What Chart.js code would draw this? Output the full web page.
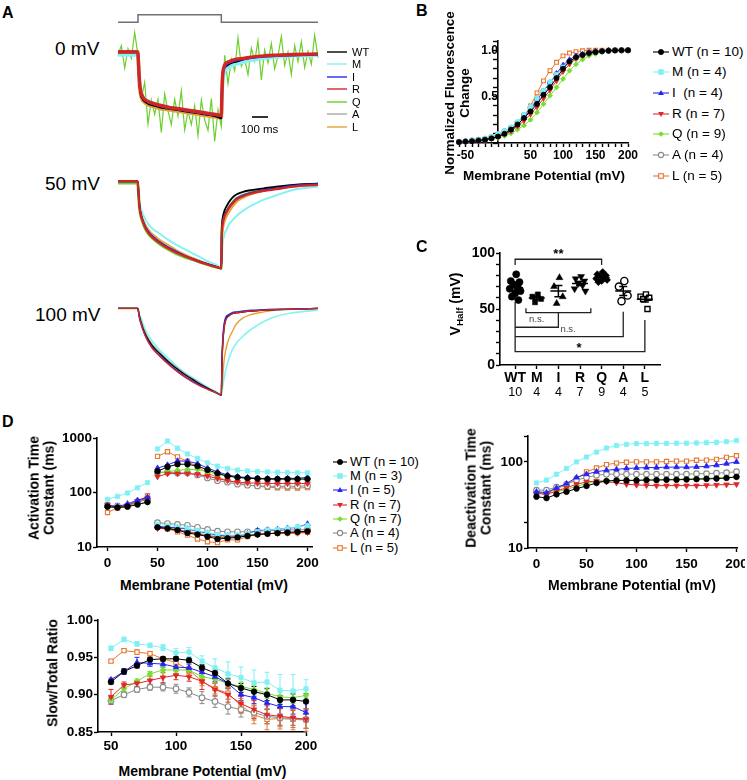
<!DOCTYPE html>
<html>
<head>
<meta charset="utf-8">
<script src="https://cdn.jsdelivr.net/npm/chart.js@4.4.1/dist/chart.umd.min.js"></script>
<style>
html,body{margin:0;padding:0;background:#fff;}
body{width:747px;height:780px;position:relative;overflow:hidden;font-family:"Liberation Sans",Arial,Helvetica,sans-serif;color:#000;}
canvas{position:absolute;}
.tx{position:absolute;white-space:nowrap;line-height:0;}
.rt{position:absolute;white-space:nowrap;text-align:center;line-height:1.1;transform:translate(-50%,-50%) rotate(-90deg);font-weight:bold;}
svg{position:absolute;overflow:visible;}
</style>
</head>
<body>
<script>
// ===================== DATA =====================
const GENOTYPES = ['WT','M','I','R','Q','A','L'];
const N_B = [10,4,4,7,9,4,5];
const N_C = [10,4,4,7,9,4,5];
const N_D = [10,3,5,7,7,4,5];

// Panel A: voltage protocol and normalized fluorescence traces (0 = baseline, 1 = full deflection)
const STEP_T = [0,120,120,620,620,1200];
const STEP_V = [0,0,1,1,0,0];
const TRACE_T = [0,100,118,122,126,130,135,140,150,165,185,210,250,300,350,400,450,500,550,600,620,623,626,630,635,640,650,665,685,710,750,800,875,950,1050,1200];

const T0_WT = [0,0,0,0.15,0.35,0.5,0.62,0.68,0.73,0.77,0.8,0.82,0.85,0.87,0.89,0.91,0.93,0.95,0.97,1.0,1.02,0.75,0.5,0.35,0.28,0.25,0.22,0.2,0.18,0.16,0.13,0.11,0.08,0.07,0.05,0.04];
const T0_M  = [0.05,0.05,0.05,0.15,0.3,0.45,0.55,0.62,0.68,0.73,0.76,0.79,0.82,0.85,0.87,0.89,0.91,0.93,0.95,0.97,0.98,0.8,0.6,0.45,0.36,0.31,0.27,0.24,0.21,0.19,0.16,0.13,0.1,0.08,0.06,0.05];
const T0_I  = [0,0,0,0.15,0.35,0.5,0.6,0.66,0.71,0.75,0.78,0.8,0.83,0.86,0.88,0.9,0.92,0.94,0.96,0.98,0.99,0.72,0.48,0.33,0.27,0.23,0.2,0.17,0.15,0.13,0.11,0.09,0.07,0.06,0.05,0.04];
const T0_R  = [0,0,0,0.12,0.32,0.48,0.58,0.64,0.7,0.74,0.77,0.79,0.82,0.85,0.87,0.89,0.91,0.93,0.95,0.97,0.98,0.7,0.45,0.3,0.24,0.2,0.17,0.15,0.13,0.11,0.1,0.08,0.06,0.05,0.04,0.03];
const T0_A  = [0,0,0,0.15,0.35,0.5,0.6,0.66,0.71,0.75,0.78,0.8,0.83,0.86,0.88,0.9,0.92,0.94,0.96,0.98,0.99,0.72,0.48,0.33,0.27,0.23,0.2,0.17,0.15,0.13,0.11,0.09,0.07,0.06,0.05,0.04];
const T0_L  = [0,0,0,0.15,0.38,0.55,0.65,0.7,0.75,0.79,0.82,0.84,0.87,0.89,0.91,0.93,0.95,0.97,0.99,1.01,1.02,0.74,0.5,0.34,0.27,0.23,0.2,0.17,0.15,0.13,0.11,0.09,0.07,0.06,0.05,0.04];
const Q0_T  = [0,20,40,60,80,100,120,140,160,180,200,220,240,260,280,300,320,340,360,380,400,420,440,460,480,500,520,540,560,580,600,620,640,660,680,700,720,740,760,780,800,820,840,860,880,900,920,940,960,980,1000,1020,1040,1060,1080,1100,1120,1140,1160,1180,1200];
const T0_Q  = [0.05,-0.1,0.25,-0.05,0.1,-0.3,0.05,0.72,0.47,1.11,0.74,0.96,0.73,1.24,0.65,0.91,1.12,0.73,0.99,0.6,1.2,0.91,1.12,0.83,1.29,0.74,1.05,1.21,0.72,1.38,0.89,1.15,0.05,0.49,0.11,0.29,-0.22,0.22,0.11,0.35,-0.06,0.14,-0.17,0.43,-0.03,0.17,-0.13,0.26,0.06,-0.24,0.21,0.0,0.35,-0.1,0.15,-0.16,0.24,-0.01,0.19,-0.26,0.09];

const T50_WT = [0,0,0,0.1,0.22,0.3,0.36,0.4,0.46,0.53,0.59,0.64,0.7,0.76,0.81,0.855,0.895,0.93,0.96,0.99,1.0,0.55,0.45,0.4,0.36,0.33,0.29,0.24,0.19,0.15,0.12,0.1,0.08,0.06,0.04,0.025];
const T50_M  = [0,0,0,0.08,0.18,0.25,0.3,0.33,0.38,0.44,0.5,0.55,0.6,0.67,0.73,0.78,0.83,0.88,0.93,0.97,1.0,0.8,0.72,0.68,0.64,0.6,0.56,0.5,0.45,0.4,0.34,0.28,0.21,0.16,0.1,0.06];
const T50_I  = [0,0,0,0.1,0.22,0.3,0.36,0.4,0.46,0.53,0.59,0.64,0.7,0.76,0.81,0.855,0.895,0.93,0.96,0.99,1.0,0.6,0.5,0.45,0.41,0.385,0.35,0.3,0.25,0.2,0.16,0.13,0.1,0.08,0.05,0.03];
const T50_R  = [0,0,0,0.1,0.22,0.31,0.37,0.41,0.47,0.54,0.6,0.65,0.71,0.77,0.82,0.86,0.9,0.935,0.965,0.99,1.0,0.62,0.52,0.47,0.43,0.4,0.36,0.31,0.26,0.21,0.17,0.14,0.11,0.09,0.06,0.04];
const T50_Q  = [0.02,0.02,0.02,0.1,0.23,0.32,0.38,0.42,0.48,0.55,0.61,0.66,0.72,0.78,0.83,0.87,0.9,0.935,0.965,0.99,1.0,0.6,0.5,0.45,0.41,0.385,0.35,0.3,0.25,0.2,0.16,0.13,0.1,0.08,0.05,0.03];
const T50_A  = [0,0,0,0.1,0.21,0.29,0.35,0.39,0.45,0.52,0.58,0.63,0.69,0.75,0.8,0.85,0.89,0.925,0.96,0.99,1.0,0.6,0.5,0.45,0.41,0.385,0.35,0.3,0.25,0.2,0.16,0.13,0.1,0.08,0.05,0.03];
const T50_L  = [0,0,0,0.1,0.2,0.28,0.34,0.38,0.44,0.5,0.56,0.61,0.67,0.73,0.79,0.84,0.88,0.92,0.955,0.985,1.0,0.7,0.6,0.55,0.5,0.46,0.41,0.36,0.3,0.24,0.19,0.15,0.11,0.08,0.05,0.03];

const T100_WT = [0,0,0,0.02,0.07,0.1,0.14,0.17,0.23,0.3,0.37,0.44,0.52,0.61,0.69,0.76,0.82,0.88,0.93,0.98,1.0,0.7,0.5,0.35,0.24,0.17,0.11,0.08,0.06,0.05,0.04,0.03,0.02,0.015,0.01,0];
const T100_M  = [0,0,0,0.02,0.05,0.08,0.1,0.12,0.18,0.25,0.32,0.39,0.48,0.57,0.66,0.74,0.8,0.86,0.92,0.97,1.0,0.97,0.93,0.88,0.82,0.77,0.68,0.58,0.48,0.4,0.32,0.24,0.15,0.09,0.05,0.02];
const T100_I  = [0,0,0,0.03,0.08,0.12,0.16,0.19,0.25,0.32,0.39,0.46,0.54,0.63,0.71,0.78,0.84,0.89,0.94,0.98,1.0,0.65,0.45,0.3,0.2,0.14,0.09,0.07,0.05,0.04,0.03,0.02,0.015,0.01,0.01,0];
const T100_R  = [0,0,0,0.03,0.08,0.12,0.16,0.19,0.25,0.32,0.4,0.47,0.55,0.64,0.72,0.79,0.85,0.9,0.94,0.98,1.0,0.72,0.52,0.37,0.26,0.19,0.12,0.09,0.06,0.05,0.04,0.03,0.02,0.015,0.01,0];
const T100_Q  = [0,0,0,0.02,0.06,0.09,0.13,0.16,0.22,0.29,0.36,0.43,0.51,0.6,0.68,0.75,0.82,0.88,0.93,0.98,1.0,0.72,0.52,0.37,0.26,0.18,0.12,0.08,0.06,0.05,0.04,0.03,0.02,0.015,0.01,0];
const T100_A  = [0,0,0,0.02,0.06,0.09,0.13,0.16,0.22,0.29,0.36,0.43,0.51,0.6,0.68,0.75,0.81,0.87,0.93,0.98,1.0,0.7,0.5,0.35,0.24,0.17,0.11,0.08,0.06,0.05,0.04,0.03,0.02,0.015,0.01,0];
const T100_L  = [0,0,0,0.02,0.07,0.1,0.14,0.17,0.23,0.3,0.37,0.44,0.52,0.61,0.69,0.76,0.82,0.88,0.93,0.98,1.0,0.92,0.85,0.75,0.63,0.55,0.45,0.35,0.27,0.18,0.11,0.07,0.04,0.02,0.01,0];

// Panel B: normalized F-V, -60..200 mV
const V_B = [-60,-50,-40,-30,-20,-10,0,10,20,30,40,50,60,70,80,90,100,110,120,130,140,150,160,170,180,190,200];
const B_WT = [0.01,0.015,0.02,0.027,0.036,0.05,0.07,0.1,0.145,0.2,0.27,0.34,0.42,0.52,0.6,0.7,0.8,0.88,0.925,0.95,0.97,0.98,0.99,0.995,0.998,1.0,1.0];
const B_M  = [0.015,0.02,0.028,0.037,0.05,0.07,0.1,0.13,0.17,0.23,0.31,0.39,0.48,0.57,0.66,0.74,0.82,0.88,0.92,0.95,0.97,0.98,0.99,0.995,1.0,1.0,1.0];
const B_I  = [0.01,0.015,0.02,0.027,0.035,0.05,0.07,0.1,0.14,0.2,0.27,0.36,0.46,0.56,0.65,0.75,0.84,0.9,0.94,0.96,0.98,0.99,0.99,1.0,1.0,1.0,1.0];
const B_R  = [0.01,0.015,0.02,0.027,0.035,0.05,0.07,0.095,0.13,0.18,0.24,0.31,0.39,0.48,0.57,0.67,0.77,0.85,0.91,0.94,0.96,0.98,0.99,0.995,1.0,1.0,1.0];
const B_Q  = [0.008,0.012,0.017,0.022,0.03,0.04,0.055,0.075,0.105,0.145,0.19,0.25,0.33,0.42,0.51,0.6,0.69,0.78,0.85,0.9,0.94,0.96,0.98,0.99,0.995,1.0,1.0];
const B_A  = [0.012,0.018,0.025,0.033,0.045,0.065,0.09,0.125,0.165,0.22,0.3,0.38,0.47,0.56,0.65,0.74,0.82,0.88,0.92,0.95,0.97,0.98,0.99,0.995,1.0,1.0,1.0];
const B_L  = [0.01,0.015,0.02,0.027,0.035,0.05,0.07,0.095,0.13,0.19,0.28,0.4,0.54,0.67,0.78,0.87,0.94,0.97,0.985,0.995,1.0,1.0,1.0,1.0,1.0,1.0,1.0];

// Panel C: V-half per cell (mV)
const VH_WT = [81,75,74,72,70,68,66,64,61,58];
const VH_M  = [63,61,59,56];
const VH_I  = [78,70,61,55];
const VH_R  = [79,77,75,73,71,68,66];
const VH_Q  = [83,81,80,79,78,77,76,75,74];
const VH_A  = [75,70,62,57];
const VH_L  = [63,61,60,59,50];

// Panel D: activation time constants (ms)
const V_ACT1 = [0,10,20,30,40];
const V_ACT2 = [50,60,70,80,90,100,110,120,130,140,150,160,170,180,190,200];
const ACT1_WT = [55,53,55,60,67];
const ACT1_M  = [75,85,98,122,152];
const ACT1_I  = [57,55,62,72,82];
const ACT1_R  = [60,53,58,70,78];
const ACT1_Q  = [55,52,56,62,65];
const ACT1_A  = [58,57,57,66,75];
const ACT1_L  = [43,52,56,68,87];
const SLOW_WT = [245,295,330,330,305,260,225,200,190,183,180,177,177,177,177,177];
const SLOW_M  = [630,880,650,510,420,350,305,275,258,248,242,238,235,232,230,230];
const SLOW_I  = [280,320,380,375,340,280,240,210,195,188,183,180,180,182,182,190];
const SLOW_R  = [195,222,222,222,215,200,180,165,155,150,148,147,146,146,146,146];
const SLOW_Q  = [230,240,255,265,265,240,215,200,188,182,178,175,173,172,172,172];
const SLOW_A  = [232,236,228,230,210,185,165,155,142,136,132,130,130,130,130,132];
const SLOW_L  = [460,560,450,370,300,225,190,165,150,138,130,125,122,121,121,123];
const FAST_WT = [23,22,20.5,18,17,15.5,14,14.5,15,16,17,17.5,18,18.5,19,19.5];
const FAST_M  = [26,25,23.5,22,20,18.5,17,16.5,16.5,17.5,19,20.5,21,22,23.5,25];
const FAST_I  = [24,23,22.5,21.5,19.5,18,16.5,16,16,17.5,20,20.5,21,22,23,26.5];
const FAST_R  = [22,21.5,20.5,19,17.5,16,15,15,15.5,16,17,17.5,18,18,18,18.5];
const FAST_Q  = [22.5,22,21,19.5,18,16.5,15.5,15.5,16,16.5,17,17.5,18,18.5,18.5,19];
const FAST_A  = [28,27,26,25,23,21,19.5,19,19,19,19.5,20,20,20.5,20.5,21];
const FAST_L  = [23,21.5,19,16.5,14,12.5,12,13.5,13.5,15.5,17,17.5,18,18,18.3,18.6];

// Panel D: deactivation time constants (ms)
const V_DEACT = [0,10,20,30,40,50,60,70,80,90,100,110,120,130,140,150,160,170,180,190,200];
const DEACT_WT = [39.5,38,42,45,49,52.5,57,60,61,61,61,61.5,61.5,62,62,62.5,63,63.5,64,65,67];
const DEACT_M  = [57,61.5,72,84,100,114,130,145,155,160,163,163,164,164,165,165,166,167,169,172,177];
const DEACT_I  = [45,44,50,56,66,72,77,80,82,84,85,86,86,87,87,87,87.5,89,91.5,95.5,100];
const DEACT_R  = [43,42,46,50,55,58.5,60,58.7,57.3,55,54,53.5,53,53,53,53,53,53.5,54,54.5,55];
const DEACT_Q  = [44,43,45,48,52,56,60,61,61,61,61.5,62,62,62.5,63,63.5,64,64.5,65,66,67];
const DEACT_A  = [47,47,51,55,61.5,66,70,72,72,72,72,72,72,72,72,72,73,73,74,75,77];
const DEACT_L  = [44,43,49,54,64,76.5,85,93,97,99,100,100,100,101,102,102,104.5,105,107,113,118];

// Panel D: slow/total ratio with SEM
const V_RATIO = [50,60,70,80,90,100,110,120,130,140,150,160,170,180,190,200];
const RATIO_WT = [0.917,0.931,0.939,0.947,0.948,0.948,0.946,0.936,0.929,0.915,0.909,0.904,0.9,0.893,0.893,0.891];
const RATIO_M  = [0.962,0.974,0.968,0.966,0.963,0.956,0.957,0.945,0.936,0.928,0.923,0.916,0.917,0.906,0.905,0.908];
const RATIO_I  = [0.92,0.931,0.943,0.942,0.941,0.937,0.936,0.93,0.924,0.915,0.9,0.896,0.889,0.884,0.884,0.876];
const RATIO_R  = [0.897,0.913,0.915,0.919,0.923,0.926,0.924,0.918,0.907,0.9,0.888,0.88,0.873,0.871,0.869,0.867];
const RATIO_Q  = [0.893,0.908,0.918,0.928,0.933,0.933,0.933,0.924,0.921,0.915,0.911,0.907,0.902,0.897,0.896,0.899];
const RATIO_A  = [0.892,0.9,0.907,0.91,0.91,0.908,0.903,0.896,0.891,0.884,0.88,0.876,0.871,0.869,0.868,0.867];
const RATIO_L  = [0.945,0.959,0.957,0.955,0.948,0.943,0.933,0.918,0.908,0.902,0.885,0.873,0.867,0.868,0.867,0.866];
const SEM_WT = [0.003,0.003,0.003,0.003,0.003,0.003,0.003,0.004,0.004,0.006,0.006,0.007,0.008,0.006,0.008,0.01];
const SEM_M  = [0.003,0.003,0.003,0.003,0.004,0.006,0.006,0.007,0.012,0.016,0.014,0.017,0.013,0.021,0.022,0.012];
const SEM_I  = [0.002,0.004,0.007,0.004,0.004,0.005,0.005,0.006,0.006,0.007,0.008,0.008,0.009,0.01,0.01,0.012];
const SEM_R  = [0.01,0.004,0.004,0.006,0.007,0.006,0.006,0.011,0.009,0.01,0.012,0.012,0.012,0.012,0.01,0.012];
const SEM_Q  = [0.005,0.004,0.003,0.003,0.004,0.004,0.004,0.005,0.005,0.006,0.006,0.006,0.007,0.008,0.008,0.008];
const SEM_A  = [0.004,0.004,0.004,0.004,0.005,0.006,0.006,0.008,0.008,0.01,0.01,0.01,0.01,0.012,0.012,0.012];
const SEM_L  = [0.002,0.002,0.003,0.003,0.003,0.004,0.005,0.006,0.007,0.008,0.01,0.012,0.014,0.014,0.014,0.015];

// ===================== STYLE =====================
const FONT = '"Liberation Sans", Arial, Helvetica, sans-serif';
Chart.defaults.font.family = FONT;
Chart.defaults.color = '#000';

const STY = {
  WT:{c:'#000000', ps:'circle', rot:0, fill:true, r:2.8},
  M:{c:'#7ff0f4', ps:'rect', rot:0, fill:true, r:3.0},
  I:{c:'#2525f2', ps:'triangle', rot:0, fill:true, r:3.2},
  R:{c:'#e02828', ps:'triangle', rot:180, fill:true, r:3.2},
  Q:{c:'#74e02e', ps:'rectRot', rot:0, fill:true, r:2.8},
  A:{c:'#8a8a8a', ps:'circle', rot:0, fill:false, r:2.8},
  L:{c:'#e8772e', ps:'rect', rot:0, fill:false, r:3.0}
};
const TRACE_COL = {WT:'#000000', M:'#86f2f2', I:'#2a2ae6', R:'#d42424', Q:'#6cd02c', A:'#a8a8a8', L:'#e6a238'};

// ===================== HELPERS =====================
function addText(html, x, y, size, weight, align, color) {
  const d = document.createElement('div');
  d.className = 'tx';
  d.innerHTML = html;
  d.style.left = x + 'px'; d.style.top = y + 'px';
  d.style.fontSize = size + 'px';
  d.style.fontWeight = weight || 'normal';
  if (color) d.style.color = color;
  const t = align === 'c' ? '-50%' : (align === 'r' ? '-100%' : '0');
  d.style.transform = 'translateX(' + t + ')';
  document.body.appendChild(d);
}
function addRot(html, x, y, size) {
  const d = document.createElement('div');
  d.className = 'rt';
  d.innerHTML = html;
  d.style.left = x + 'px'; d.style.top = y + 'px';
  d.style.fontSize = size + 'px';
  document.body.appendChild(d);
}
function markerSVG(g, cx, cy) {
  const s = STY[g];
  const fill = s.fill ? s.c : '#fff';
  const sw = s.fill ? 0.8 : 1.1;
  if (s.ps === 'circle') return `<circle cx="${cx}" cy="${cy}" r="2.6" fill="${fill}" stroke="${s.c}" stroke-width="${sw}"/>`;
  if (s.ps === 'rect') return `<rect x="${cx-2.3}" y="${cy-2.3}" width="4.6" height="4.6" fill="${fill}" stroke="${s.c}" stroke-width="${sw}"/>`;
  if (s.ps === 'rectRot') return `<polygon points="${cx},${cy-2.8} ${cx+2.8},${cy} ${cx},${cy+2.8} ${cx-2.8},${cy}" fill="${fill}"/>`;
  if (s.rot === 180) return `<polygon points="${cx-2.9},${cy-2} ${cx+2.9},${cy-2} ${cx},${cy+3}" fill="${fill}"/>`;
  return `<polygon points="${cx-2.9},${cy+2} ${cx+2.9},${cy+2} ${cx},${cy-3}" fill="${fill}"/>`;
}
function addLegend(x0, lineW, textX, y0, dy, labels, size, withMarker, colors) {
  GENOTYPES.forEach((g, i) => {
    const y = y0 + i * dy;
    const c = colors ? colors[g] : STY[g].c;
    let inner = `<line x1="0" y1="6" x2="${lineW}" y2="6" stroke="${c}" stroke-width="${withMarker ? 1.1 : 1.4}"/>`;
    if (withMarker) inner += markerSVG(g, lineW / 2, 6);
    const sv = document.createElementNS('http://www.w3.org/2000/svg', 'svg');
    sv.setAttribute('width', lineW); sv.setAttribute('height', 12);
    sv.style.left = x0 + 'px'; sv.style.top = (y - 6) + 'px';
    sv.innerHTML = inner;
    document.body.appendChild(sv);
    addText(labels[i], textX, y, size, 'normal', 'l');
  });
}

function makeChart(area, pad, config) {
  const cv = document.createElement('canvas');
  const W = area.w + pad.l + pad.r, H = area.h + pad.t + pad.b;
  cv.width = W; cv.height = H;
  cv.style.left = (area.l - pad.l) + 'px'; cv.style.top = (area.t - pad.t) + 'px';
  cv.style.width = W + 'px'; cv.style.height = H + 'px';
  document.body.appendChild(cv);
  const o = config.options;
  o.responsive = false; o.animation = false; o.devicePixelRatio = 1; o.events = [];
  o.plugins = Object.assign({legend:{display:false}, tooltip:{enabled:false}}, o.plugins || {});
  const sx = o.scales.x, sy = o.scales.y;
  const xBox = sx.display !== false && typeof sx.position !== 'object';
  const yBox = sy.display !== false && typeof sy.position !== 'object';
  o.layout = {padding:{left: yBox ? 0 : pad.l, right: pad.r, top: pad.t, bottom: xBox ? 0 : pad.b}};
  sx.afterFit = s => { if (xBox) s.height = pad.b; s.paddingLeft = 0; s.paddingRight = 0; s.paddingTop = 0; s.paddingBottom = 0; };
  sy.afterFit = s => { if (yBox) s.width = pad.l; s.paddingTop = 0; s.paddingBottom = 0; s.paddingLeft = 0; s.paddingRight = 0; };
  return new Chart(cv, config);
}

function axis(opts) {
  const ticksArr = opts.ticks;
  const lab = opts.labels;
  const fmt = opts.fmt || (v => String(v));
  const sc = {
    type: opts.type || 'linear', min: opts.min, max: opts.max,
    border:{display:true, color:'#000', width:1.6},
    grid:{display:true, drawOnChartArea:false, drawTicks:true, tickLength: opts.tl || 4, tickColor:'#000', tickWidth:1.4},
    afterBuildTicks: s => { s.ticks = ticksArr.map(v => ({value:v})); },
    ticks:{autoSkip:false, maxRotation:0, minRotation:0, padding: opts.pad === undefined ? 2 : opts.pad,
      font:{family:FONT, size: opts.size || 13, weight:'bold'}, color:'#000',
      callback: v => { const hit = lab.find(l => Math.abs(l - v) < 1e-6); return hit === undefined ? '' : fmt(hit); }}
  };
  if (opts.position) sc.position = opts.position;
  return sc;
}

const errPlugin = {
  id:'errbars',
  beforeDatasetsDraw(chart) {
    const ctx = chart.ctx, ys = chart.scales.y;
    chart.data.datasets.forEach((ds, i) => {
      if (!ds.sem) return;
      const meta = chart.getDatasetMeta(i);
      ctx.save();
      ctx.strokeStyle = ds.semColor; ctx.lineWidth = 1;
      meta.data.forEach((pt, j) => {
        const v = ds.data[j].y, e = ds.sem[j];
        const y1 = ys.getPixelForValue(v + e), y2 = ys.getPixelForValue(v - e);
        ctx.beginPath();
        ctx.moveTo(pt.x, y1); ctx.lineTo(pt.x, y2);
        ctx.moveTo(pt.x - 2.5, y1); ctx.lineTo(pt.x + 2.5, y1);
        ctx.moveTo(pt.x - 2.5, y2); ctx.lineTo(pt.x + 2.5, y2);
        ctx.stroke();
      });
      ctx.restore();
    });
  }
};

function pts(xs, ys) { return xs.map((x, i) => ({x:x, y:ys[i]})); }
function seriesDS(g, data, extra) {
  const s = STY[g];
  return Object.assign({
    data: data, borderColor: s.c, borderWidth: 1, backgroundColor: s.c,
    pointStyle: s.ps, pointRotation: s.rot, pointRadius: s.r,
    pointBackgroundColor: s.fill ? s.c : '#ffffff', pointBorderColor: s.c, pointBorderWidth: s.fill ? 0.8 : 1.1,
    tension: 0, clip: false, spanGaps: false
  }, extra || {});
}

// ===================== PANEL A =====================
addText('A', 2, 12.5, 16, 'bold', 'l');
makeChart({l:118, t:11, w:200, h:15}, {l:4, r:4, t:4, b:4}, {
  type:'line',
  data:{datasets:[{data:pts(STEP_T, STEP_V), borderColor:'#707070', borderWidth:1.5, pointRadius:0, tension:0, clip:false}]},
  options:{scales:{x:{type:'linear', min:0, max:1200, display:false}, y:{min:-0.5, max:1.5, display:false}}}
});

function traceChart(area, yMin, yMax, sets) {
  makeChart(area, {l:6, r:6, t:6, b:6}, {
    type:'line',
    data:{datasets: sets.map(s => ({
      data: pts(s.t || TRACE_T, s.v), borderColor: TRACE_COL[s.g], borderWidth: s.w,
      pointRadius:0, tension:0, cubicInterpolationMode: s.t ? 'default' : 'monotone', clip:false
    }))},
    options:{scales:{x:{type:'linear', min:0, max:1200, display:false}, y:{min:yMin, max:yMax, reverse:true, display:false}}}
  });
}
traceChart({l:118, t:26, w:200, h:120}, -0.4, 1.45, [
  {g:'R', v:T0_R, w:3.4}, {g:'I', v:T0_I, w:2.4}, {g:'M', v:T0_M, w:3.2}, {g:'WT', v:T0_WT, w:2.4},
  {g:'A', v:T0_A, w:2.2}, {g:'L', v:T0_L, w:3.6}, {g:'Q', v:T0_Q, t:Q0_T, w:1.2}
]);
traceChart({l:118, t:164, w:200, h:113}, -0.2, 1.1, [
  {g:'R', v:T50_R, w:2.2}, {g:'I', v:T50_I, w:1.8}, {g:'WT', v:T50_WT, w:1.8}, {g:'A', v:T50_A, w:1.6},
  {g:'L', v:T50_L, w:1.8}, {g:'M', v:T50_M, w:2}, {g:'Q', v:T50_Q, w:3}
]);
traceChart({l:118, t:291, w:200, h:113}, -0.2, 1.1, [
  {g:'R', v:T100_R, w:1.3}, {g:'I', v:T100_I, w:1.3}, {g:'WT', v:T100_WT, w:1.3}, {g:'A', v:T100_A, w:1.3},
  {g:'Q', v:T100_Q, w:1.5}, {g:'L', v:T100_L, w:1.4}, {g:'M', v:T100_M, w:1.6}
]);
addText('0 mV', 55, 48.5, 19, 'normal', 'l');
addText('50 mV', 45, 183.5, 19, 'normal', 'l');
addText('100 mV', 35, 315, 19, 'normal', 'l');
addLegend(327, 20, 352, 51.5, 12.5, GENOTYPES, 11, false, TRACE_COL);
(function(){
  const sv = document.createElementNS('http://www.w3.org/2000/svg', 'svg');
  sv.setAttribute('width', 20); sv.setAttribute('height', 6);
  sv.style.left = '251px'; sv.style.top = '114px';
  sv.innerHTML = '<line x1="1" y1="3" x2="17" y2="3" stroke="#000" stroke-width="1.6"/>';
  document.body.appendChild(sv);
})();
addText('100 ms', 259.5, 128.5, 11.5, 'normal', 'c');

// ===================== PANEL B =====================
addText('B', 416, 11, 16, 'bold', 'l');
const B_XT = []; for (let v = -60; v <= 200; v += 10) B_XT.push(v);
const B_YT = []; for (let k = 0; k <= 11; k++) B_YT.push(k / 10);
const BDATA = {WT:B_WT, M:B_M, I:B_I, R:B_R, Q:B_Q, A:B_A, L:B_L};
makeChart({l:459, t:41, w:169, h:102}, {l:12, r:14, t:6, b:24}, {
  type:'line',
  data:{datasets: GENOTYPES.map(g => seriesDS(g, pts(V_B, BDATA[g]), {pointRadius: STY[g].r * 0.9}))},
  options:{scales:{
    x: axis({min:-60, max:200, ticks:B_XT, labels:[-50,50,100,150,200], size:12, pad:1.5}),
    y: axis({min:0, max:1.1, ticks:B_YT, labels:[0.5,1.0], fmt:v => v.toFixed(1), size:12, pad:2, position:{x:0}})
  }}
});
addRot('Normalized Fluorescence<br>Change', 457.5, 93, 13.5);
addText('Membrane Potential (mV)', 544, 176, 13.5, 'bold', 'c');
addLegend(653, 16, 672, 51.5, 20.7, ['WT (n = 10)','M (n = 4)','I&nbsp; (n = 4)','R (n = 7)','Q (n = 9)','A (n = 4)','L (n = 5)'], 13.5, true);

// ===================== PANEL C =====================
addText('C', 416, 246.5, 16, 'bold', 'l');
const VH = {WT:VH_WT, M:VH_M, I:VH_I, R:VH_R, Q:VH_Q, A:VH_A, L:VH_L};
const JIT = [0.05,-0.2,0.2,-0.08,0.12,-0.25,0.25,0.0,-0.15,0.15];
const C_TY = []; for (let v = 0; v <= 100; v += 10) C_TY.push(v);
const BRACKETS = [
  [[0,89.3],[0,94.4],[4,94.4],[4,89.3]],
  [[0.5,50.6],[0.5,46.7],[3.5,46.7],[3.5,50.6]],
  [[2,46.7],[2,33.7],[0,33.7]],
  [[0,56.5],[0,11.9],[6,11.9],[6,40.2]],
  [[0,25.3],[5,25.3],[5,47.6]]
];
const SIG_TEXT = [
  {t:'**', x:2, y:101.5, size:13, bold:true, dy:3, color:'#000'},
  {t:'n.s.', x:1.0, y:40.8, size:9.5, bold:false, dy:0, color:'#444'},
  {t:'n.s.', x:2.45, y:32.1, size:9.5, bold:false, dy:0, color:'#444'},
  {t:'*', x:2.95, y:17.9, size:13, bold:true, dy:3, color:'#000'}
];
const cPlugin = {
  id:'cplug',
  afterDatasetsDraw(chart) {
    const ctx = chart.ctx, xs = chart.scales.x, ys = chart.scales.y;
    ctx.save();
    ctx.strokeStyle = '#000'; ctx.lineWidth = 1.5;
    GENOTYPES.forEach((g, i) => {
      const v = VH[g], n = v.length;
      const m = v.reduce((a, b) => a + b, 0) / n;
      const sd = Math.sqrt(v.reduce((a, b) => a + (b - m) * (b - m), 0) / (n - 1));
      const se = sd / Math.sqrt(n);
      const px = xs.getPixelForValue(i);
      const pm = ys.getPixelForValue(m), p1 = ys.getPixelForValue(m + se), p2 = ys.getPixelForValue(m - se);
      ctx.beginPath();
      ctx.moveTo(px - 8, pm); ctx.lineTo(px + 8, pm);
      ctx.moveTo(px, p1); ctx.lineTo(px, p2);
      ctx.moveTo(px - 4, p1); ctx.lineTo(px + 4, p1);
      ctx.moveTo(px - 4, p2); ctx.lineTo(px + 4, p2);
      ctx.stroke();
    });
    ctx.strokeStyle = '#222'; ctx.lineWidth = 1.3;
    BRACKETS.forEach(b => {
      ctx.beginPath();
      b.forEach((p, k) => {
        const X = xs.getPixelForValue(p[0]), Y = ys.getPixelForValue(p[1]);
        if (k === 0) ctx.moveTo(X, Y); else ctx.lineTo(X, Y);
      });
      ctx.stroke();
    });
    ctx.textAlign = 'center'; ctx.textBaseline = 'middle';
    SIG_TEXT.forEach(s => {
      ctx.font = (s.bold ? 'bold ' : '') + s.size + 'px ' + FONT;
      ctx.fillStyle = s.color;
      ctx.fillText(s.t, xs.getPixelForValue(s.x), ys.getPixelForValue(s.y) + s.dy);
    });
    ctx.font = '12.5px ' + FONT; ctx.fillStyle = '#000';
    N_C.forEach((n, i) => ctx.fillText(String(n), xs.getPixelForValue(i), chart.chartArea.bottom + 28));
    ctx.restore();
  }
};
makeChart({l:500, t:253, w:160, h:112}, {l:34, r:8, t:14, b:42}, {
  type:'scatter',
  data:{datasets: GENOTYPES.map((g, i) => {
    const s = STY[g];
    return {
      data: VH[g].map((v, j) => ({x: i + JIT[j], y: v})),
      pointStyle: s.ps, pointRotation: s.rot, pointRadius: s.ps === 'triangle' ? 4 : 3.6,
      pointBackgroundColor: s.fill ? '#000' : '#fff', pointBorderColor:'#000', pointBorderWidth: s.fill ? 0.5 : 1.4,
      showLine:false, clip:false
    };
  })},
  options:{scales:{
    x: axis({min:-0.7, max:6.7, ticks:[0,1,2,3,4,5,6], labels:[0,1,2,3,4,5,6], fmt:v => GENOTYPES[Math.round(v)], size:14, pad:1}),
    y: axis({min:0, max:100, ticks:C_TY, labels:[0,50,100], size:14, pad:1})
  }},
  plugins:[cPlugin]
});
addRot('V<sub style="font-size:70%;vertical-align:-0.25em">Half</sub> (mV)', 457, 304, 14);

// ===================== PANEL D =====================
addText('D', 2, 421.5, 16, 'bold', 'l');
const ACT1 = {WT:ACT1_WT, M:ACT1_M, I:ACT1_I, R:ACT1_R, Q:ACT1_Q, A:ACT1_A, L:ACT1_L};
const SLOW = {WT:SLOW_WT, M:SLOW_M, I:SLOW_I, R:SLOW_R, Q:SLOW_Q, A:SLOW_A, L:SLOW_L};
const FAST = {WT:FAST_WT, M:FAST_M, I:FAST_I, R:FAST_R, Q:FAST_Q, A:FAST_A, L:FAST_L};
const actSets = [];
GENOTYPES.forEach(g => {
  actSets.push(seriesDS(g, pts(V_ACT1, ACT1[g]).concat([{x:45, y:null}], pts(V_ACT2, SLOW[g]))));
  actSets.push(seriesDS(g, pts(V_ACT2, FAST[g])));
});
makeChart({l:97, t:438, w:215, h:109}, {l:45, r:10, t:8, b:30}, {
  type:'line',
  data:{datasets: actSets},
  options:{scales:{
    x: axis({min:-10.5, max:204.5, ticks:[0,50,100,150,200], labels:[0,50,100,150,200], size:13.5, pad:4}),
    y: axis({type:'logarithmic', min:10, max:1000, ticks:[10,100,1000], labels:[10,100,1000], size:13.5, pad:1})
  }}
});
addRot('Activation Time<br>Constant (ms)', 41.5, 488, 14);
addText('Membrane Potential (mV)', 204, 585, 14, 'bold', 'c');
addLegend(333, 14, 350, 461.7, 14.3, ['WT (n = 10)','M (n = 3)','I (n = 5)','R (n = 7)','Q (n = 7)','A (n = 4)','L (n = 5)'], 13, true);

const DEACT = {WT:DEACT_WT, M:DEACT_M, I:DEACT_I, R:DEACT_R, Q:DEACT_Q, A:DEACT_A, L:DEACT_L};
makeChart({l:528, t:436, w:209, h:112}, {l:40, r:8, t:8, b:30}, {
  type:'line',
  data:{datasets: GENOTYPES.map(g => seriesDS(g, pts(V_DEACT, DEACT[g])))},
  options:{scales:{
    x: axis({min:-8.5, max:200.5, ticks:[0,50,100,150,200], labels:[0,50,100,150,200], size:13.5, pad:4}),
    y: axis({type:'logarithmic', min:10, max:200, ticks:[10,20,100,200], labels:[10,100], size:13.5, pad:1})
  }}
});
addRot('Deactivation Time<br>Constant (ms)', 478.5, 488, 14);
addText('Membrane Potential (mV)', 632, 585, 14, 'bold', 'c');

const RATIO = {WT:RATIO_WT, M:RATIO_M, I:RATIO_I, R:RATIO_R, Q:RATIO_Q, A:RATIO_A, L:RATIO_L};
const SEM = {WT:SEM_WT, M:SEM_M, I:SEM_I, R:SEM_R, Q:SEM_Q, A:SEM_A, L:SEM_L};
makeChart({l:98, t:620, w:208, h:112}, {l:45, r:12, t:8, b:30}, {
  type:'line',
  data:{datasets: GENOTYPES.map(g => seriesDS(g, pts(V_RATIO, RATIO[g]), {sem: SEM[g], semColor: STY[g].c}))},
  options:{scales:{
    x: axis({min:40, max:200, ticks:[50,100,150,200], labels:[50,100,150,200], size:13.5, pad:2}),
    y: axis({min:0.85, max:1.0, ticks:[0.85,0.9,0.95,1.0], labels:[0.85,0.9,0.95,1.0], fmt:v => v.toFixed(2), size:13.5, pad:1})
  }},
  plugins:[errPlugin]
});
addRot('Slow/Total Ratio', 52.5, 673, 14);
addText('Membrane Potential (mV)', 202.5, 771, 14, 'bold', 'c');
</script>
</body>
</html>
